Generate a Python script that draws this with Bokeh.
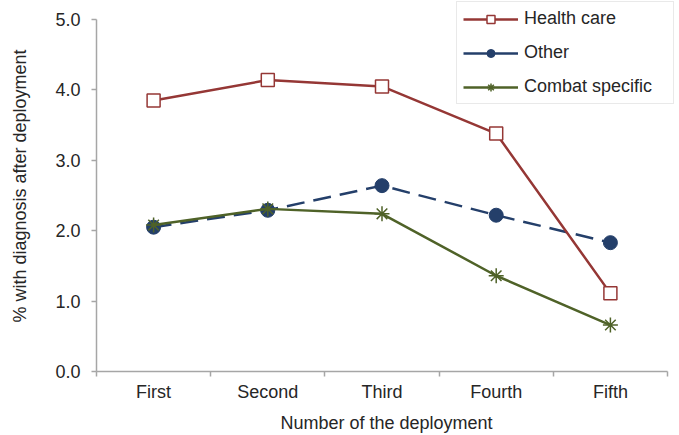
from bokeh.plotting import figure
from bokeh.models import (Range1d, FixedTicker, NumeralTickFormatter, Legend, LegendItem)
from bokeh.embed import file_html
from bokeh.resources import INLINE

categories = ["First", "Second", "Third", "Fourth", "Fifth"]
health_care = [3.85, 4.14, 4.05, 3.38, 1.11]
other = [2.05, 2.29, 2.64, 2.22, 1.83]
combat_specific = [2.08, 2.31, 2.24, 1.36, 0.66]
y_ticks = [0, 1, 2, 3, 4, 5]

RED = "#953735"
NAVY = "#243F6A"
OLIVE = "#4F6228"
AXIS = "#A6A6A6"
TEXT = "#262626"
FONT = "Liberation Sans"
FS = "18px"

xs = [i + 0.5 for i in range(len(categories))]
n = len(categories)

# frame extends a little beyond the axes so the legend (clipped to the frame) can sit high/right
p = figure(frame_width=580, frame_height=371, output_backend="svg", toolbar_location=None,
           x_range=Range1d(0, n * 580 / 571), y_range=Range1d(0, 5 * 371 / 352),
           min_border_left=96, min_border_right=0, min_border_top=0, min_border_bottom=60)
p.outline_line_color = None
p.xgrid.visible = False
p.ygrid.visible = False
p.background_fill_color = "white"
p.border_fill_color = "white"

# x axis: labels at category centres, ticks at category boundaries
xa = p.xaxis[0]
xa.bounds = (0, n)
xa.ticker = FixedTicker(ticks=xs, minor_ticks=list(range(n + 1)))
xa.major_label_overrides = {x: c for x, c in zip(xs, categories)}
xa.major_tick_out = 0
xa.major_tick_in = 0
xa.minor_tick_out = 5
xa.minor_tick_in = 0
xa.minor_tick_line_color = AXIS
xa.axis_line_color = AXIS
xa.axis_line_width = 1.5
xa.minor_tick_line_width = 1.5
xa.major_label_standoff = 5
xa.axis_label = "Number of the deployment"
xa.axis_label_standoff = 8

ya = p.yaxis[0]
ya.bounds = (0, 5)
ya.ticker = FixedTicker(ticks=y_ticks)
ya.formatter = NumeralTickFormatter(format="0.0")
ya.major_tick_out = 5
ya.major_tick_in = 0
ya.minor_tick_line_color = None
ya.major_tick_line_color = AXIS
ya.major_tick_line_width = 1.5
ya.axis_line_color = AXIS
ya.axis_line_width = 1.5
ya.major_label_standoff = 11
ya.axis_label = "% with diagnosis after deployment"
ya.axis_label_standoff = 22

for ax in (xa, ya):
    ax.major_label_text_font = FONT
    ax.major_label_text_font_size = FS
    ax.major_label_text_color = TEXT
    ax.axis_label_text_font = FONT
    ax.axis_label_text_font_size = FS
    ax.axis_label_text_font_style = "normal"
    ax.axis_label_text_color = TEXT

# series
o_line = p.line(xs, other, line_color=NAVY, line_width=2.5, line_dash="18 9")
o_mark = p.scatter(xs, other, marker="circle", size=14, fill_color=NAVY, line_color=NAVY)
# solid key for the legend: a one-point line draws nothing in the plot itself
o_key = p.line(xs[:1], other[:1], line_color=NAVY, line_width=2.5)

c_line = p.line(xs, combat_specific, line_color=OLIVE, line_width=2.5)
c_mark = p.scatter(xs, combat_specific, marker="asterisk", size=15, line_color=OLIVE, line_width=1.5)

h_line = p.line(xs, health_care, line_color=RED, line_width=2.5)
h_mark = p.scatter(xs, health_care, marker="square", size=13, fill_color="white",
                   line_color=RED, line_width=1.5)

legend = Legend(items=[
    LegendItem(label="Health care", renderers=[h_line, h_mark]),
    LegendItem(label="Other", renderers=[o_key, o_mark]),
    LegendItem(label="Combat specific", renderers=[c_line, c_mark]),
], location=(360, 267))
legend.padding = 6
legend.spacing = 13
legend.glyph_width = 55
legend.glyph_height = 20
legend.label_height = 20
legend.label_width = 143
legend.label_standoff = 6
legend.label_text_font = FONT
legend.label_text_font_size = FS
legend.label_text_color = TEXT
legend.border_line_color = "#D4D4D4"
legend.border_line_width = 1.5
legend.background_fill_color = "white"
legend.background_fill_alpha = 1
legend.margin = 0
p.add_layout(legend, "center")

open("out.html", "w").write(file_html(p, INLINE))
